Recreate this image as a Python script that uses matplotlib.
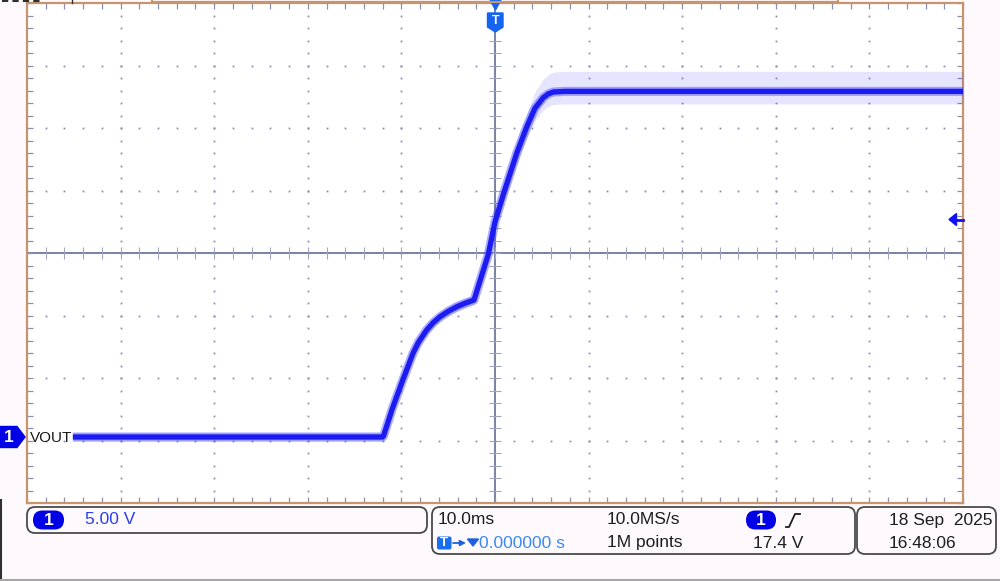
import matplotlib.pyplot as plt
from matplotlib.patches import FancyBboxPatch, Polygon

W, H = 1000, 581

# scope settings
ms_per_div = 10.0
volts_per_div = 5.0
ch1_zero_div = -2.944        # ground level of channel 1, in divisions from centre
trig_level = 17.4

# VOUT trace (time in ms, volts)
time_ms = [-45.1, -12.0, -11.9, -11.0, -9.97, -8.76, -8.2, -7.30, -6.6, -5.88, -5.0,
           -4.09, -3.2, -2.24, -0.72, 0.0, 0.89, 2.32, 3.39, 4.27, 5.16, 5.7, 6.23,
           7.5, 10.0, 50.0]
vout_v = [0.0, 0.0, 0.1, 2.2, 4.32, 6.70, 7.55, 8.56, 9.15, 9.62, 10.05,
          10.42, 10.7, 10.96, 14.6, 17.2, 19.4, 22.7, 24.8, 26.3, 27.15, 27.45, 27.6,
          27.65, 27.65, 27.65]
# visible noise envelope around the trace (volts above / below)
noise_hi = [0.35, 0.35, 0.35, 0.4, 0.4, 0.4, 0.4, 0.4, 0.4, 0.4, 0.4,
            0.4, 0.4, 0.4, 0.5, 0.6, 0.7, 0.9, 1.1, 1.3, 1.5, 1.55, 1.6,
            1.6, 1.6, 1.6]
noise_lo = [0.35, 0.35, 0.35, 0.4, 0.4, 0.4, 0.4, 0.4, 0.4, 0.4, 0.4,
            0.4, 0.4, 0.4, 0.5, 0.6, 0.7, 0.8, 0.9, 1.0, 1.0, 1.0, 1.0,
            1.0, 1.0, 1.0]

ch_scale = '5.00 V'
timebase = '10.0ms'
sample_rate = '10.0MS/s'
record_len = '1M points'
trig_pos = '0.000000 s'
trig_text = '17.4 V'
date_text = '18 Sep  2025'
time_text = '16:48:06'

plt.rcParams['font.family'] = ['Liberation Sans', 'DejaVu Sans']

fig = plt.figure(figsize=(W / 100, H / 100), dpi=100)
fig.patch.set_facecolor('#fdf9fd')

ax = fig.add_axes([27 / W, (H - 503) / H, 936 / W, 500 / H])
ax.set_facecolor('white')
x_lo, x_hi = -5 * ms_per_div, 5 * ms_per_div
y_lo = (-4 - ch1_zero_div) * volts_per_div
y_hi = (4 - ch1_zero_div) * volts_per_div
y_mid = (0 - ch1_zero_div) * volts_per_div
ax.set_xlim(x_lo, x_hi)
ax.set_ylim(y_lo, y_hi)

grid_c = '#8a90b0'
xsub = [x_lo + ms_per_div / 5 * i for i in range(51)]
ysub = [y_lo + volts_per_div / 5 * i for i in range(41)]

# dotted graticule
for k in range(1, 10):
    if k == 5:
        continue
    xv = x_lo + k * ms_per_div
    ax.plot([xv] * len(ysub), ysub, ls='', marker='s', ms=1.3, color=grid_c, mew=0)
for k in range(1, 8):
    if k == 4:
        continue
    yv = y_lo + k * volts_per_div
    ax.plot(xsub, [yv] * len(xsub), ls='', marker='s', ms=1.3, color=grid_c, mew=0)

# centre cross with small ticks
ax.axvline(0, color='#7a82a2', lw=1.4, zorder=1)
ax.axhline(y_mid, color='#7a82a2', lw=1.4, zorder=1)
ax.plot([0] * len(ysub), ysub, ls='', marker='_', ms=9, mew=0.8, color='#a0a6c0', zorder=1)
ax.plot(xsub, [y_mid] * len(xsub), ls='', marker='|', ms=9, mew=0.8, color='#a0a6c0', zorder=1)

ax.set_xticks(xsub)
ax.set_yticks(ysub)
ax.tick_params(direction='in', length=4, width=0.9, color=grid_c,
               top=True, right=True, labelbottom=False, labelleft=False)
for s in ax.spines.values():
    s.set_color('#c8946a')
    s.set_linewidth(1.6)

# trace
lower = [v - d for v, d in zip(vout_v, noise_lo)]
upper = [v + d for v, d in zip(vout_v, noise_hi)]
ax.fill_between(time_ms, lower, upper, color='#3030ff', alpha=0.12, lw=0, zorder=3)
ax.plot(time_ms, vout_v, color='#4848ff', lw=6.5, alpha=0.45, zorder=4,
        solid_joinstyle='round', solid_capstyle='butt')
ax.plot(time_ms, vout_v, color='#1c1cf0', lw=3.8, zorder=5,
        solid_joinstyle='round', solid_capstyle='butt')

# overlay in pixel coordinates for the scope decorations
ov = fig.add_axes([0, 0, 1, 1], zorder=5)
ov.set_xlim(0, W)
ov.set_ylim(H, 0)
ov.axis('off')
ov.patch.set_alpha(0)

# cut-off top readout
ov.plot([152, 152, 838, 838], [-2, 1.5, 1.5, -2], color='#c8946a', lw=1.6)
ov.plot([2, 40], [0.8, 0.8], color='#303030', lw=1.5, dashes=(3, 2))
ov.plot([72, 72], [0, 3], color='#303030', lw=1)

# trigger position marker
ov.add_patch(Polygon([(488.5, -3), (502.5, -3), (495.5, 10)], color='#1464f0'))
ov.add_patch(Polygon([(487.5, 13), (503, 13), (503, 27), (495.3, 32), (487.5, 27)],
                     color='#1464f0'))
ov.text(495.3, 21.5, 'T', color='white', fontsize=9, fontweight='bold',
        ha='center', va='center')

# trigger level arrow
ax_y = (H - 503) + (trig_level - y_lo) / (y_hi - y_lo) * 500
ty = H - ax_y
ov.add_patch(Polygon([(949, ty), (956.5, ty - 6), (956.5, ty + 6)], color='#1010f0'))
ov.plot([955, 963], [ty, ty], color='#1010f0', lw=2)

# channel 1 ground marker
gy = H - ((H - 503) + (0 - y_lo) / (y_hi - y_lo) * 500)
ov.add_patch(Polygon([(0, gy - 10.5), (17, gy - 10.5), (25, gy), (17, gy + 10.5), (0, gy + 10.5)],
                     color='#0000e6'))
ov.text(9, gy + 1, '1', color='white', fontsize=12.5, fontweight='bold',
        ha='center', va='center')
ov.text(30, gy + 1, 'VOUT', color='#1a1a1a', fontsize=11, ha='left', va='center')

# left / bottom window edges
ov.plot([0.8, 0.8], [500, 579], color='#303030', lw=1.5)
ov.plot([0, W], [579.5, 579.5], color='#a8a8a8', lw=1.5)


def box(x0, y0, x1, y1):
    ov.add_patch(FancyBboxPatch((x0, y0), x1 - x0, y1 - y0,
                                boxstyle='round,pad=0,rounding_size=8',
                                fc='none', ec='#4a4a4a', lw=1.3))


def pill(x0, x1, yc, label):
    ov.add_patch(FancyBboxPatch((x0, yc - 9.5), x1 - x0, 19,
                                boxstyle='round,pad=0,rounding_size=9.5',
                                fc='#0000e6', ec='none'))
    ov.text((x0 + x1) / 2, yc + 0.5, label, color='white', fontsize=12.5,
            fontweight='bold', ha='center', va='center')


fs = 12.5
txt = '#1e1e1e'

box(27, 507, 427, 533)
pill(33, 64, 520, '1')
ov.text(85, 520, ch_scale, color='#2a40e8', fontsize=fs, ha='left', va='center')

box(432, 507, 855, 554)
ov.text(438, 520, timebase, color=txt, fontsize=fs, ha='left', va='center')
ov.text(607, 520, sample_rate, color=txt, fontsize=fs, ha='left', va='center')
pill(746, 776, 520, '1')
ov.plot([786, 789, 795, 800], [527, 527, 514, 514], color=txt, lw=1.3)
ov.add_patch(FancyBboxPatch((437, 536.5), 14.5, 13,
                            boxstyle='round,pad=0,rounding_size=2',
                            fc='#1a6ef0', ec='none'))
ov.text(444.2, 543.5, 'T', color='white', fontsize=9.5, fontweight='bold',
        ha='center', va='center')
ov.annotate('', xy=(466, 543), xytext=(453, 543),
            arrowprops=dict(arrowstyle='-|>', color='#2060e0', lw=1.3,
                            mutation_scale=8, shrinkA=0, shrinkB=0))
ov.add_patch(Polygon([(467.5, 539), (478.5, 539), (473, 546)], color='#2060e0'))
ov.text(479, 543, trig_pos, color='#3a8af0', fontsize=fs, ha='left', va='center')
ov.text(607, 543, record_len, color=txt, fontsize=fs, ha='left', va='center')
ov.text(753, 543, trig_text, color=txt, fontsize=fs, ha='left', va='center')

box(857, 507, 996, 554)
ov.text(889, 520, date_text, color=txt, fontsize=fs, ha='left', va='center')
ov.text(889, 543, time_text, color=txt, fontsize=fs, ha='left', va='center')

fig.savefig('out.png', dpi=100, facecolor=fig.get_facecolor())
